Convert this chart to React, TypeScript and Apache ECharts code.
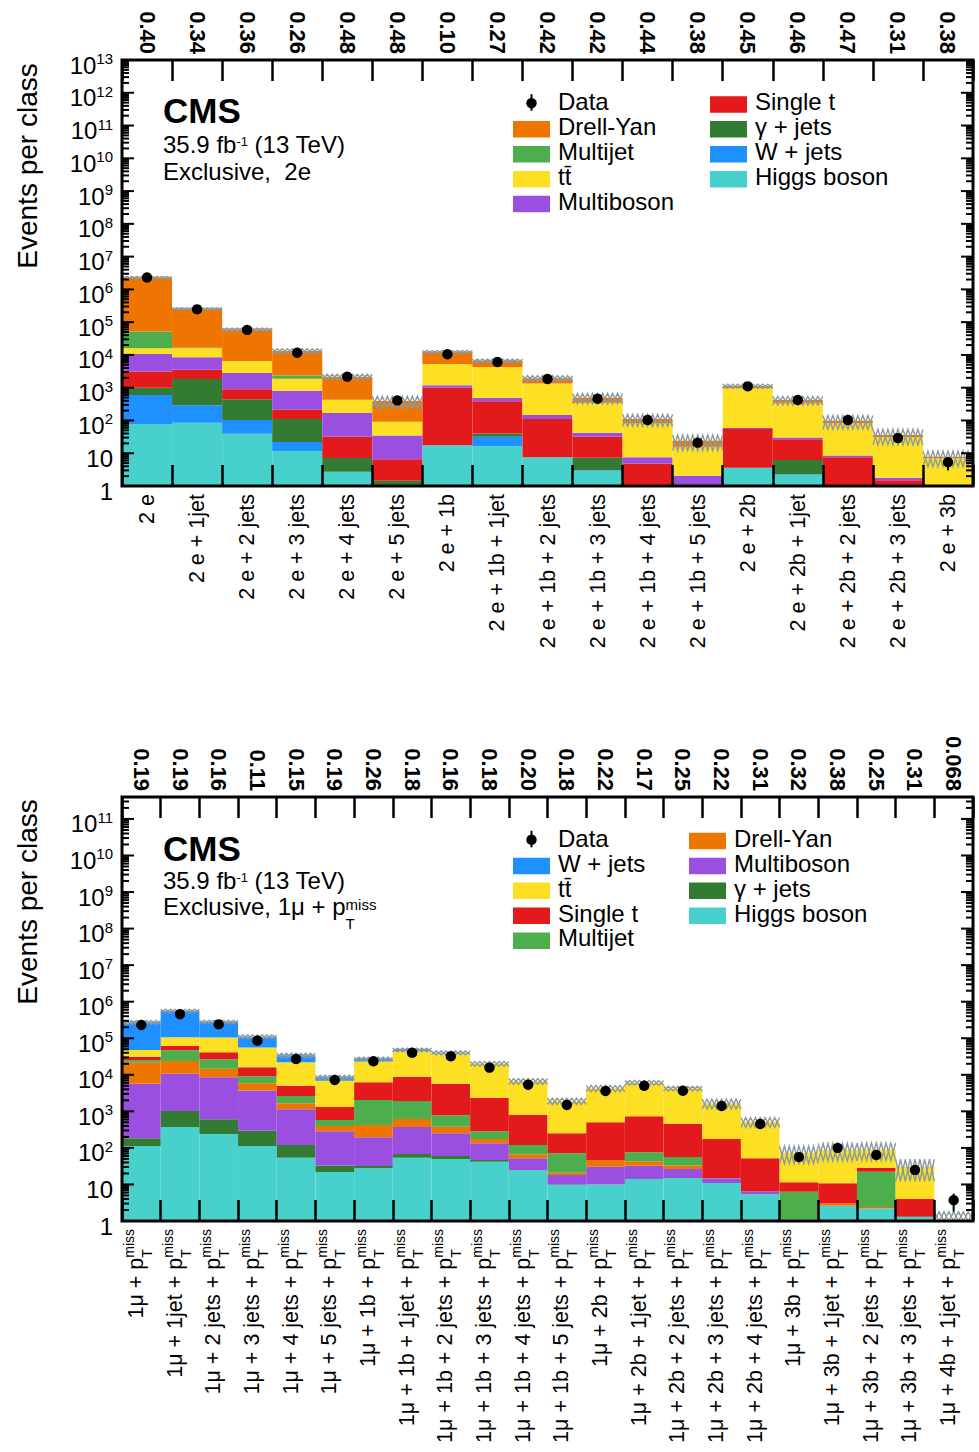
import React, { useEffect, useRef } from 'react';
import * as echarts from 'echarts';

const FF = '"Liberation Sans", Arial, Helvetica, sans-serif';

// ---------------- Panel 1: Exclusive, 2e ----------------
const cats2e = [
  '2 e', '2 e + 1jet', '2 e + 2 jets', '2 e + 3 jets', '2 e + 4 jets', '2 e + 5 jets',
  '2 e + 1b', '2 e + 1b + 1jet', '2 e + 1b + 2 jets', '2 e + 1b + 3 jets', '2 e + 1b + 4 jets',
  '2 e + 1b + 5 jets', '2 e + 2b', '2 e + 2b + 1jet', '2 e + 2b + 2 jets', '2 e + 2b + 3 jets', '2 e + 3b',
];
const pvals2e = ['0.40', '0.34', '0.36', '0.26', '0.48', '0.48', '0.10', '0.27', '0.42', '0.42', '0.44', '0.38', '0.45', '0.46', '0.47', '0.31', '0.38'];
// stack order bottom -> top
const higgs2e = [78, 85, 39, 11.7, 2.7, 0.4, 17.4, 16.6, 7.5, 2.9, 0, 0, 3.6, 2.2, 0, 0, 0];
const wjets2e = [522, 205, 64, 10.3, 0, 0, 0, 15.4, 0, 0.1, 0, 0, 0, 0.1, 0, 0, 0];
const gjets2e = [400, 1560, 342, 88, 4.4, 1.05, 0, 8, 0, 4.3, 0, 0, 0, 3.9, 0, 0, 0];
const singlet2e = [2100, 1700, 445, 104, 25, 5.15, 983, 345, 102.5, 24.7, 4.9, 0, 51.4, 20.4, 7.5, 1.5, 0];
const multiboson2e = [7600, 4950, 1910, 596, 137, 28.4, 180, 100, 37, 10, 2.6, 2.06, 4, 3.4, 1.1, 0.3, 0];
const ttbar2e = [5300, 7500, 3700, 1060, 261, 57, 4120, 3785, 1203, 308, 74.5, 13.7, 901, 320, 73.4, 28.8, 7.0];
const multijet2e = [36000, 600, 0, 470, 0, 0, 0, 0, 0, 0, 0, 0, 0, 0, 0, 0, 0];
const drellyan2e = [2248000, 240400, 53500, 10860, 1740, 298, 7000, 2330, 590, 145, 28, 8.2, 160, 70, 16, 5.4, 0.8];
const data2e = [2.3e6, 2.46e5, 5.8e4, 1.17e4, 2170, 410, 1.05e4, 6050, 1850, 460, 103, 21, 1100, 420, 103, 29, 5.3];
const dataErr2e = [1517, 496, 241, 108, 47, 20, 102, 78, 43, 21, 10, 4.6, 33, 20, 10, 5.4, 2.3];
const unc2e = [0.07, 0.07, 0.1, 0.17, 0.18, 0.4, 0.1, 0.12, 0.2, 0.35, 0.4, 0.5, 0.15, 0.3, 0.45, 0.5, 0.5];

// ---------------- Panel 2: Exclusive, 1mu + pTmiss ----------------
const catsMu = [
  '1μ', '1μ + 1jet', '1μ + 2 jets', '1μ + 3 jets', '1μ + 4 jets', '1μ + 5 jets',
  '1μ + 1b', '1μ + 1b + 1jet', '1μ + 1b + 2 jets', '1μ + 1b + 3 jets', '1μ + 1b + 4 jets', '1μ + 1b + 5 jets',
  '1μ + 2b', '1μ + 2b + 1jet', '1μ + 2b + 2 jets', '1μ + 2b + 3 jets', '1μ + 2b + 4 jets',
  '1μ + 3b', '1μ + 3b + 1jet', '1μ + 3b + 2 jets', '1μ + 3b + 3 jets', '1μ + 4b + 1jet',
];
const pvalsMu = ['0.19', '0.19', '0.16', '0.11', '0.15', '0.19', '0.26', '0.18', '0.16', '0.18', '0.20', '0.18', '0.22', '0.17', '0.25', '0.22', '0.31', '0.32', '0.38', '0.25', '0.31', '0.068'];
const higgsMu = [113, 372, 240, 113, 54, 22, 27.6, 54, 50, 42, 24.4, 9.6, 10, 14, 15, 11, 5.4, 1.1, 2.6, 2.2, 1.3, 0];
const gjetsMu = [70, 648, 365, 182, 66, 11, 4.4, 14, 10, 5, 0.6, 0.4, 0, 0, 0, 0, 0, 0, 0, 0, 0, 0];
const multibosonMu = [5517, 9680, 7895, 3405, 1020, 252, 163, 304, 190, 87, 27, 8, 20.6, 18.6, 11.5, 3.7, 1.1, 0, 0, 0, 0, 0];
const drellyanMu = [15600, 13300, 6200, 2150, 520, 115, 230, 248, 130, 41, 15, 3, 16.4, 10.4, 6.5, 0.2, 0, 0, 0.4, 0.2, 0, 0];
const multijetMu = [3700, 23000, 11800, 3250, 980, 180, 1615, 1300, 400, 110, 53, 50, 0, 33, 23, 0.1, 0, 5.2, 0, 20, 0, 0];
const singletMu = [6000, 14000, 15000, 6900, 2360, 740, 4260, 6980, 4920, 2075, 690, 179, 453, 654, 404, 160, 45.5, 5.2, 7.7, 6.3, 2.7, 0];
const ttbarMu = [17000, 46000, 62500, 40000, 17000, 5580, 16700, 36100, 33300, 17640, 5890, 1670, 3760, 5370, 3800, 1485, 468, 62.5, 77.3, 62.3, 26.6, 1.05];
const wjetsMu = [226000, 453000, 176000, 54000, 12000, 1600, 4000, 3000, 1000, 200, 0, 0, 0, 0, 0, 0, 0, 0, 0, 0, 0, 0];
const dataMu = [2.3e5, 4.56e5, 2.4e5, 8.6e4, 2.7e4, 7200, 2.34e4, 4.0e4, 3.2e4, 1.57e4, 5350, 1490, 3600, 5000, 3650, 1400, 450, 56, 100, 64, 25, 3.7];
const dataErrMu = [480, 675, 490, 293, 164, 85, 153, 200, 179, 125, 73, 39, 60, 71, 60, 37, 21, 7.5, 10, 8, 5, 1.9];
const uncMu = [0.12, 0.1, 0.1, 0.12, 0.15, 0.15, 0.12, 0.12, 0.12, 0.15, 0.18, 0.2, 0.2, 0.15, 0.15, 0.3, 0.3, 0.5, 0.5, 0.5, 0.6, 0.7];

const COL = {
  dy: '#ee7600',
  mj: '#4cae4c',
  tt: '#fde023',
  mb: '#9b4fe0',
  st: '#e31a1c',
  gj: '#337a33',
  wj: '#1e90ff',
  h: '#48d1cc',
};
const HATCH = '#8a9aa2';

const G0 = { left: 122, top: 60, width: 851, height: 426 };
const G1 = { left: 122, top: 797, width: 851, height: 424 };
const YMAX0 = 1e13;
const YMAX1 = Math.pow(10, 11.6);

type Comp = { name: string; color: string; values: number[] };

function stackSeries(comps: Comp[], xAxisIndex: number, yAxisIndex: number) {
  const n = comps[0].values.length;
  const base: number[] = new Array(n).fill(0);
  return comps.map((c) => {
    const data = c.values.map((v, i) => {
      const lo = base[i];
      base[i] = lo + v;
      return [i, lo, base[i]];
    });
    return {
      type: 'custom',
      name: c.name,
      xAxisIndex,
      yAxisIndex,
      z: 2,
      encode: { x: 0, y: 2 },
      data,
      renderItem: (params: any, api: any) => {
        const i = api.value(0);
        const lo = Math.max(api.value(1), 1);
        const hi = api.value(2);
        if (!(hi > lo)) return null;
        const top = api.coord([i, hi]);
        const bot = api.coord([i, lo]);
        const w = api.size([1, 0], [i, 10])[0];
        return {
          type: 'rect',
          shape: { x: top[0] - w / 2, y: top[1], width: w, height: bot[1] - top[1] },
          style: { fill: c.color },
        };
      },
    };
  });
}

function totals(comps: Comp[]) {
  return comps[0].values.map((_, i) => comps.reduce((s, c) => s + c.values[i], 0));
}

function bandSeries(comps: Comp[], unc: number[], xAxisIndex: number, yAxisIndex: number, steps: number) {
  const tot = totals(comps);
  return {
    type: 'custom',
    xAxisIndex,
    yAxisIndex,
    z: 3,
    encode: { x: 0, y: 2 },
    data: tot.map((t, i) => [i, t * (1 - unc[i]), t * (1 + unc[i])]),
    renderItem: (params: any, api: any) => {
      const i = api.value(0);
      const lo = Math.max(api.value(1), 1);
      const hi = api.value(2);
      if (!(hi > 1)) return null;
      const pT = api.coord([i, hi]);
      const pB = api.coord([i, lo]);
      const w = api.size([1, 0], [i, 10])[0];
      const x0 = pT[0] - w / 2;
      const st = w / steps;
      const a: number[][] = [];
      const b: number[][] = [];
      for (let k = 0; k <= steps; k++) {
        const x = x0 + k * st;
        a.push([x, k % 2 ? pB[1] : pT[1]]);
        b.push([x, k % 2 ? pT[1] : pB[1]]);
      }
      return {
        type: 'group',
        children: [
          { type: 'polyline', shape: { points: a }, style: { stroke: HATCH, lineWidth: 1.4, fill: null } },
          { type: 'polyline', shape: { points: b }, style: { stroke: HATCH, lineWidth: 1.4, fill: null } },
        ],
      };
    },
  };
}

function dataSeries(vals: number[], errs: number[], xAxisIndex: number, yAxisIndex: number) {
  return {
    type: 'custom',
    name: 'Data',
    xAxisIndex,
    yAxisIndex,
    z: 5,
    encode: { x: 0, y: 1 },
    data: vals.map((v, i) => [i, v, errs[i]]),
    renderItem: (params: any, api: any) => {
      const i = api.value(0);
      const v = api.value(1);
      const e = api.value(2);
      const p = api.coord([i, v]);
      const ph = api.coord([i, v + e]);
      const pl = api.coord([i, Math.max(v - e, 1)]);
      return {
        type: 'group',
        children: [
          { type: 'line', shape: { x1: p[0], y1: ph[1], x2: p[0], y2: pl[1] }, style: { stroke: '#000', lineWidth: 2 } },
          { type: 'circle', shape: { cx: p[0], cy: p[1], r: 5.2 }, style: { fill: '#000' } },
        ],
      };
    },
  };
}

function tickSeries(maxVal: number, xAxisIndex: number, yAxisIndex: number) {
  const data: number[][] = [];
  for (let k = 0; k < 14; k++) {
    for (let m = 1; m <= 9; m++) {
      const v = m * Math.pow(10, k);
      if (v > 1 && v < maxVal * 0.999) data.push([0, v, m === 1 ? 12 : 7]);
    }
  }
  return {
    type: 'custom',
    xAxisIndex,
    yAxisIndex,
    z: 6,
    silent: true,
    encode: { x: 0, y: 1 },
    data,
    renderItem: (params: any, api: any) => {
      const v = api.value(1);
      const len = api.value(2);
      const cs = params.coordSys;
      const y = api.coord([0, v])[1];
      return {
        type: 'group',
        children: [
          { type: 'line', shape: { x1: cs.x, y1: y, x2: cs.x + len, y2: y }, style: { stroke: '#000', lineWidth: 2 } },
          { type: 'line', shape: { x1: cs.x + cs.width, y1: y, x2: cs.x + cs.width - len, y2: y }, style: { stroke: '#000', lineWidth: 2 } },
        ],
      };
    },
  };
}

function yAxisOpt(gridIndex: number, max: number) {
  return {
    type: 'log',
    logBase: 10,
    gridIndex,
    min: 1,
    max,
    interval: 1,
    splitNumber: 13,
    z: 10,
    axisLine: { show: false },
    axisTick: { show: false },
    splitLine: { show: false },
    minorTick: { show: false },
    minorSplitLine: { show: false },
    axisLabel: {
      margin: 9,
      fontSize: 24,
      fontFamily: FF,
      color: '#000',
      lineHeight: 10,
      verticalAlign: 'top',
      showMinLabel: true,
      showMaxLabel: true,
      hideOverlap: false,
      formatter: (v: number) => {
        const e = Math.log10(v);
        const r = Math.round(e);
        if (Math.abs(e - r) > 1e-6) return '';
        if (r === 0) return '1';
        if (r === 1) return '10';
        return '10{sup|' + r + '}';
      },
      rich: {
        sup: { fontSize: 15, fontFamily: FF, color: '#000', verticalAlign: 'bottom', height: 23, lineHeight: 1 },
      },
    },
  };
}

function xAxisBottom(gridIndex: number, data: string[], label: any) {
  return {
    type: 'category',
    gridIndex,
    position: 'bottom',
    data,
    boundaryGap: true,
    z: 10,
    axisLine: { show: false },
    splitLine: { show: false },
    axisTick: { show: true, inside: true, length: 21, interval: 0, lineStyle: { color: '#000', width: 2.5 } },
    axisLabel: { interval: 0, rotate: 90, margin: 8, color: '#000', fontFamily: FF, fontSize: 21.5, ...label },
  };
}

function xAxisTop(gridIndex: number, data: string[]) {
  return {
    type: 'category',
    gridIndex,
    position: 'top',
    data,
    boundaryGap: true,
    z: 10,
    axisLine: { show: false },
    splitLine: { show: false },
    axisTick: { show: true, inside: true, length: 21, interval: 0, lineStyle: { color: '#000', width: 2.5 } },
    axisLabel: { interval: 0, rotate: 90, margin: 6, color: '#000', fontFamily: FF, fontSize: 22, fontWeight: 'bold' },
  };
}

function txt(x: number, y: number, text: string, size: number, extra: any = {}, rotation = 0) {
  return {
    type: 'text',
    x,
    y,
    rotation,
    z: 100,
    silent: true,
    style: {
      text,
      fontSize: size,
      fontFamily: FF,
      fill: '#000',
      align: 'left',
      verticalAlign: 'middle',
      textAlign: 'left',
      textVerticalAlign: 'middle',
      ...extra,
    },
  };
}

function frame(g: { left: number; top: number; width: number; height: number }) {
  return {
    type: 'rect',
    z: 100,
    silent: true,
    shape: { x: g.left, y: g.top, width: g.width, height: g.height },
    style: { fill: 'none', stroke: '#000', lineWidth: 3 },
  };
}

type LegItem = { label: string; color?: string; data?: boolean };

function legend(cols: { swX: number; txX: number; items: LegItem[] }[], rowY0: number, dy: number) {
  const els: any[] = [];
  cols.forEach((col) => {
    col.items.forEach((it, r) => {
      const y = rowY0 + r * dy;
      if (it.data) {
        els.push({ type: 'line', z: 100, silent: true, shape: { x1: col.swX + 18.5, y1: y - 7.5, x2: col.swX + 18.5, y2: y + 9 }, style: { stroke: '#000', lineWidth: 2 } });
        els.push({ type: 'circle', z: 100, silent: true, shape: { cx: col.swX + 18.5, cy: y + 1.5, r: 5.2 }, style: { fill: '#000' } });
      } else {
        els.push({ type: 'rect', z: 100, silent: true, shape: { x: col.swX, y: y - 5.5, width: 37, height: 16.5 }, style: { fill: it.color } });
      }
      els.push(txt(col.txX, y, it.label, 24, { lineHeight: 20 }));
    });
  });
  return els;
}

const TT = 't' + 't\u0304';

function buildOption() {
  const comps2e: Comp[] = [
    { name: 'Higgs boson', color: COL.h, values: higgs2e },
    { name: 'W + jets', color: COL.wj, values: wjets2e },
    { name: 'γ + jets', color: COL.gj, values: gjets2e },
    { name: 'Single t', color: COL.st, values: singlet2e },
    { name: 'Multiboson', color: COL.mb, values: multiboson2e },
    { name: TT, color: COL.tt, values: ttbar2e },
    { name: 'Multijet', color: COL.mj, values: multijet2e },
    { name: 'Drell-Yan', color: COL.dy, values: drellyan2e },
  ];
  const compsMu: Comp[] = [
    { name: 'Higgs boson', color: COL.h, values: higgsMu },
    { name: 'γ + jets', color: COL.gj, values: gjetsMu },
    { name: 'Multiboson', color: COL.mb, values: multibosonMu },
    { name: 'Drell-Yan', color: COL.dy, values: drellyanMu },
    { name: 'Multijet', color: COL.mj, values: multijetMu },
    { name: 'Single t', color: COL.st, values: singletMu },
    { name: TT, color: COL.tt, values: ttbarMu },
    { name: 'W + jets', color: COL.wj, values: wjetsMu },
  ];

  const supRich = { sup: { fontSize: 13, fontFamily: FF, fill: '#000', verticalAlign: 'top', height: 13, lineHeight: 1, padding: [0, 0, 0, 0] } };

  const graphics: any[] = [
    frame(G0),
    frame(G1),
    txt(27, 166, 'Events per class', 28, { align: 'center', textAlign: 'center' }, Math.PI / 2),
    txt(27, 902, 'Events per class', 28, { align: 'center', textAlign: 'center' }, Math.PI / 2),
    txt(163, 110.2, 'CMS', 35, { fontWeight: 'bold' }),
    txt(163, 144.3, '35.9 fb{sup|-1} (13 TeV)', 24, { lineHeight: 18, rich: supRich }),
    txt(163, 171.5, 'Exclusive,  2e', 24, { lineHeight: 18 }),
    txt(163, 848.5, 'CMS', 35, { fontWeight: 'bold' }),
    txt(163, 880, '35.9 fb{sup|-1} (13 TeV)', 24, { lineHeight: 18, rich: supRich }),
    txt(163, 906, 'Exclusive, 1μ + p{T|T}{m|miss}', 24, {
      lineHeight: 18,
      rich: {
        T: { fontSize: 15, fontFamily: FF, fill: '#000', width: 0, height: 15, lineHeight: 1, verticalAlign: 'top', padding: [19, 0, 0, 0] },
        m: { fontSize: 15, fontFamily: FF, fill: '#000', height: 15, lineHeight: 1, verticalAlign: 'top', padding: [0, 0, 0, 0] },
      },
    }),
    ...legend(
      [
        {
          swX: 513, txX: 558,
          items: [
            { label: 'Data', data: true },
            { label: 'Drell-Yan', color: COL.dy },
            { label: 'Multijet', color: COL.mj },
            { label: TT, color: COL.tt },
            { label: 'Multiboson', color: COL.mb },
          ],
        },
        {
          swX: 710, txX: 755,
          items: [
            { label: 'Single t', color: COL.st },
            { label: 'γ + jets', color: COL.gj },
            { label: 'W + jets', color: COL.wj },
            { label: 'Higgs boson', color: COL.h },
          ],
        },
      ],
      101.7,
      24.9
    ),
    ...legend(
      [
        {
          swX: 513, txX: 558,
          items: [
            { label: 'Data', data: true },
            { label: 'W + jets', color: COL.wj },
            { label: TT, color: COL.tt },
            { label: 'Single t', color: COL.st },
            { label: 'Multijet', color: COL.mj },
          ],
        },
        {
          swX: 689, txX: 734,
          items: [
            { label: 'Drell-Yan', color: COL.dy },
            { label: 'Multiboson', color: COL.mb },
            { label: 'γ + jets', color: COL.gj },
            { label: 'Higgs boson', color: COL.h },
          ],
        },
      ],
      838.3,
      24.9
    ),
  ];

  return {
    animation: false,
    backgroundColor: '#fff',
    grid: [
      { ...G0, containLabel: false },
      { ...G1, containLabel: false },
    ],
    xAxis: [
      xAxisBottom(0, cats2e, {}),
      xAxisTop(0, pvals2e),
      xAxisBottom(1, catsMu, {
        padding: [0, 0, 11, 0],
        formatter: (v: string) => '{b|' + v + ' + p}{T|T}{m|miss}',
        rich: {
          b: { fontSize: 21.5, fontFamily: FF, color: '#000', lineHeight: 28, align: 'left' },
          T: { fontSize: 14, fontFamily: FF, color: '#000', width: 0, height: 14, lineHeight: 1, verticalAlign: 'top', align: 'left', padding: [18, 0, 0, 0] },
          m: { fontSize: 14, fontFamily: FF, color: '#000', height: 14, lineHeight: 1, verticalAlign: 'top', align: 'left' },
        },
      }),
      xAxisTop(1, pvalsMu),
    ],
    yAxis: [yAxisOpt(0, YMAX0), yAxisOpt(1, YMAX1)],
    series: [
      ...stackSeries(comps2e, 0, 0),
      bandSeries(comps2e, unc2e, 0, 0, 10),
      dataSeries(data2e, dataErr2e, 0, 0),
      tickSeries(YMAX0, 0, 0),
      ...stackSeries(compsMu, 2, 1),
      bandSeries(compsMu, uncMu, 2, 1, 8),
      dataSeries(dataMu, dataErrMu, 2, 1),
      tickSeries(YMAX1, 2, 1),
    ],
    graphic: { elements: graphics },
  };
}

export default function App() {
  const ref = useRef<HTMLDivElement>(null);
  useEffect(() => {
    document.body.style.margin = '0';
    const chart = echarts.init(ref.current as HTMLDivElement, null, { renderer: 'svg' });
    chart.setOption(buildOption() as any);
    return () => {
      chart.dispose();
    };
  }, []);
  return <div ref={ref} style={{ width: 979, height: 1452 }} />;
}
